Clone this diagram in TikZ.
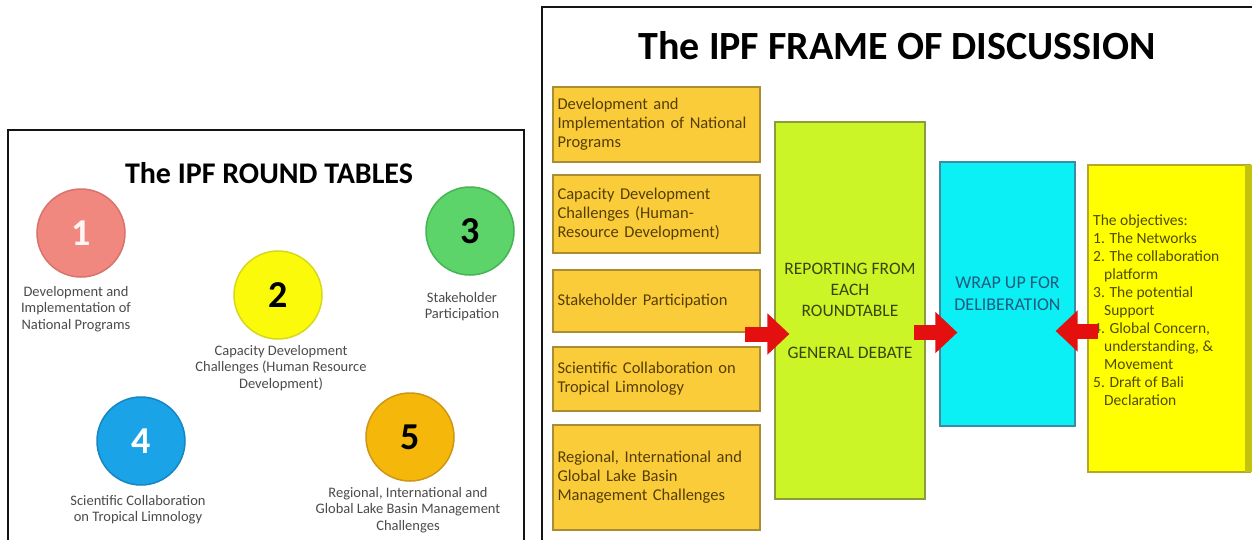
\documentclass[tikz,border=0pt]{standalone}
\usepackage{fontspec}
\setmainfont{Carlito}
\usetikzlibrary{arrows.meta,calc}

\definecolor{panelline}{RGB}{20,20,20}
\definecolor{labelgray}{RGB}{75,75,75}
\definecolor{salmon}{RGB}{240,136,128}
\definecolor{salmonedge}{RGB}{215,115,108}
\definecolor{sunyellow}{RGB}{250,250,10}
\definecolor{sunedge}{RGB}{215,215,30}
\definecolor{leafgreen}{RGB}{92,212,106}
\definecolor{leafedge}{RGB}{70,180,85}
\definecolor{skyblue}{RGB}{26,163,230}
\definecolor{skyedge}{RGB}{20,135,195}
\definecolor{amber}{RGB}{245,184,10}
\definecolor{amberedge}{RGB}{205,150,20}
\definecolor{gold}{RGB}{251,204,58}
\definecolor{goldedge}{RGB}{170,140,50}
\definecolor{goldtext}{RGB}{85,62,5}
\definecolor{lime}{RGB}{204,245,40}
\definecolor{limeedge}{RGB}{140,155,60}
\definecolor{limetext}{RGB}{55,70,10}
\definecolor{aqua}{RGB}{10,240,245}
\definecolor{aquaedge}{RGB}{60,140,165}
\definecolor{aquatext}{RGB}{30,90,125}
\definecolor{lemon}{RGB}{255,255,0}
\definecolor{lemonedge}{RGB}{180,170,40}
\definecolor{lemonside}{RGB}{195,195,15}
\definecolor{lemontext}{RGB}{80,75,0}
\definecolor{arrowred}{RGB}{228,16,16}

\begin{document}
\begin{tikzpicture}[x=1pt,y=-1pt,
  panel/.style={draw=panelline,line width=2pt},
  roundnum/.style={circle,minimum size=88pt,inner sep=0pt,line width=1.5pt,
    font=\bfseries\fontsize{38}{38}\selectfont},
  roundlabel/.style={align=center,text=labelgray,inner sep=0pt,
    font=\fontsize{14.5}{16.5}\selectfont},
  obox/.style={rectangle,fill=gold,draw=goldedge,line width=1.2pt,
    minimum width=207pt,text width=198pt,inner xsep=4.5pt,align=left,
    text=goldtext,font=\fontsize{16.5}{19}\selectfont},
  tallbox/.style={rectangle,line width=1.2pt,inner sep=0pt,align=center},
  blockarrow/.style={draw=arrowred,line width=15pt,
    -{Triangle[width=40pt,length=22pt]},color=arrowred},
  heading/.style={font=\bfseries\fontsize{#1}{#1}\selectfont,text=black,inner sep=0pt}
]
\useasboundingbox (0,0) rectangle (1252,539);
\fill[white] (0,0) rectangle (1252,539);

% ---------- round tables panel ----------
\draw[panel] (8,541) -- (8,130) -- (524,130) -- (524,541);
\node[heading=30] (rtitle) at (269,173) {The IPF ROUND TABLES};

\node[roundnum,fill=salmon,draw=salmonedge,text=white!92!salmon] (c1) at (81,233) {1};
\node[roundnum,fill=sunyellow,draw=sunedge,text=black] (c2) at (278,295) {2};
\node[roundnum,fill=leafgreen,draw=leafedge,text=black] (c3) at (470,231) {3};
\node[roundnum,fill=skyblue,draw=skyedge,text=white] (c4) at (141,441) {4};
\node[roundnum,fill=amber,draw=amberedge,text=black] (c5) at (410,437) {5};

\node[roundlabel,anchor=north] (l1) at (76,286) {Development and\\Implementation of\\National Programs};
\node[roundlabel,anchor=north] (l2) at (281,345) {Capacity Development\\Challenges (Human Resource\\Development)};
\node[roundlabel,anchor=north] (l3) at (462,292) {Stakeholder\\Participation};
\node[roundlabel,anchor=north] (l4) at (138,495) {Scientific Collaboration\\on Tropical Limnology};
\node[roundlabel,anchor=north] (l5) at (408,487) {Regional, International and\\Global Lake Basin Management\\Challenges};

% ---------- frame of discussion panel ----------
\draw[panel] (542,541) -- (542,7) -- (1254,7);
\node[heading=40] (ftitle) at (897,46) {The IPF FRAME OF DISCUSSION};

\node[obox,minimum height=75pt] (b1) at (656.5,124.5) {Development and\\Implementation of National\\Programs};
\node[obox,minimum height=78pt] (b2) at (656.5,214) {Capacity Development\\Challenges (Human-\\Resource Development)};
\node[obox,minimum height=62pt] (b3) at (656.5,301) {Stakeholder Participation};
\node[obox,minimum height=64pt] (b4) at (656.5,379) {Scientific Collaboration on\\Tropical Limnology};
\node[obox,minimum height=105pt] (b5) at (656.5,477.5) {Regional, International and\\Global Lake Basin\\Management Challenges};

\node[tallbox,fill=lime,draw=limeedge,minimum width=150pt,minimum height=377pt,
  text=limetext,font=\fontsize{17.5}{21}\selectfont] (green) at (850,310.5)
  {REPORTING FROM\\EACH\\ROUNDTABLE\\[21pt]GENERAL DEBATE};

\node[tallbox,fill=aqua,draw=aquaedge,minimum width=135pt,minimum height=264pt,
  text=aquatext,font=\fontsize{18}{22}\selectfont] (aqua) at (1007.5,294)
  {WRAP UP FOR\\DELIBERATION};

\node[tallbox,fill=lemon,draw=lemonedge,minimum width=162pt,minimum height=307pt] (yel) at (1169,318.5) {};
\fill[lemonside] (1245,165) rectangle (1252,472);
\node[anchor=north west,align=left,inner sep=0pt,text=lemontext,
  font=\fontsize{15.5}{18}\selectfont] (objectives) at (1093,215)
  {The objectives:\\
   1. The Networks\\
   2. The collaboration\\
   \hspace*{11pt}platform\\
   3. The potential\\
   \hspace*{11pt}Support\\
   4. Global Concern,\\
   \hspace*{11pt}understanding, \&\\
   \hspace*{11pt}Movement\\
   5. Draft of Bali\\
   \hspace*{11pt}Declaration};

% ---------- block arrows ----------
\coordinate (a1) at (745,334);
\coordinate (a3) at (1098,331);
\draw[blockarrow] (a1) -- ($(green.west |- a1)+(15,0)$);
\draw[blockarrow] ($(green.east)+(-12,22)$) -- ($(aqua.west |- green.east)+(18,22)$);
\draw[blockarrow] (a3) -- ($(aqua.east |- a3)+(-20,0)$);
\end{tikzpicture}
\end{document}
